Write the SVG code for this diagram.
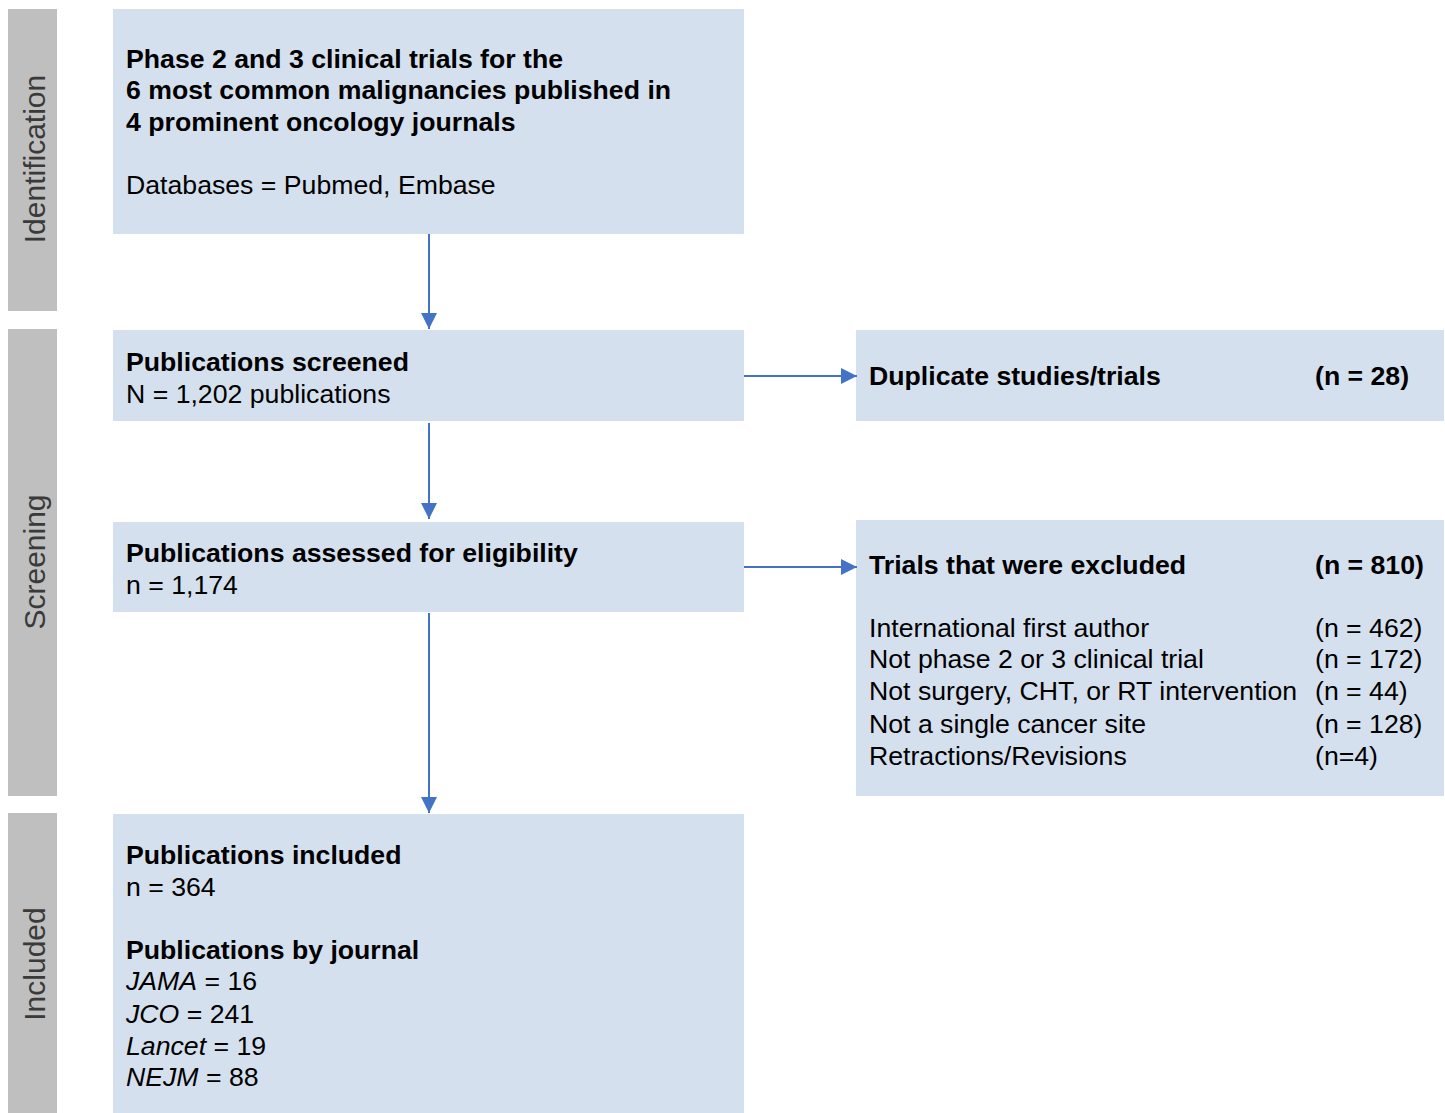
<svg xmlns="http://www.w3.org/2000/svg" width="1445" height="1113" viewBox="0 0 1445 1113">
<defs>
<marker id="ah" viewBox="0 0 10 10" refX="10" refY="5" markerWidth="16" markerHeight="16" markerUnits="userSpaceOnUse" orient="auto"><path d="M0,0 L10,5 L0,10 z" fill="#4472c4"/></marker>
<style>
.bar{fill:#bfbfbf}
.box{fill:#d5e0ee}
.side{font-family:"Liberation Sans",Arial,sans-serif;font-size:30px;fill:#3a3a3a;text-anchor:middle}
.t{font-family:"Liberation Sans",Arial,sans-serif;font-size:26.67px;fill:#000}
.b{font-weight:bold}
.i{font-style:italic}
.con{stroke:#4472c4;stroke-width:2;fill:none;marker-end:url(#ah)}
</style>
</defs>
<rect width="1445" height="1113" fill="#fff"/>
<g id="stages">
<rect class="bar" x="8" y="9" width="49" height="302"/>
<text class="side" transform="translate(45,159) rotate(-90)">Identification</text>
<rect class="bar" x="8" y="329" width="49" height="467"/>
<text class="side" transform="translate(45,562) rotate(-90)">Screening</text>
<rect class="bar" x="8" y="813" width="49" height="300"/>
<text class="side" transform="translate(45,964) rotate(-90)">Included</text>
</g>
<g id="identification">
<rect class="box" x="113" y="9" width="631" height="225"/>
<text class="t b" x="126" y="68">Phase 2 and 3 clinical trials for the</text>
<text class="t b" x="126" y="99">6 most common malignancies published in</text>
<text class="t b" x="126" y="131">4 prominent oncology journals</text>
<text class="t" x="126" y="194">Databases = Pubmed, Embase</text>
</g>
<g id="screened">
<rect class="box" x="113" y="330" width="631" height="91"/>
<text class="t b" x="126" y="371">Publications screened</text>
<text class="t" x="126" y="403">N = 1,202 publications</text>
</g>
<g id="duplicates">
<rect class="box" x="856" y="330" width="588" height="91"/>
<text class="t b" x="869" y="385">Duplicate studies/trials</text>
<text class="t b" x="1315" y="385">(n = 28)</text>
</g>
<g id="eligibility">
<rect class="box" x="113" y="522" width="631" height="90"/>
<text class="t b" x="126" y="562">Publications assessed for eligibility</text>
<text class="t" x="126" y="594">n = 1,174</text>
</g>
<g id="excluded">
<rect class="box" x="856" y="520" width="588" height="276"/>
<text class="t b" x="869" y="574">Trials that were excluded</text>
<text class="t b" x="1315" y="574">(n = 810)</text>
<text class="t" x="869" y="637">International first author</text>
<text class="t" x="1315" y="637">(n = 462)</text>
<text class="t" x="869" y="668">Not phase 2 or 3 clinical trial</text>
<text class="t" x="1315" y="668">(n = 172)</text>
<text class="t" x="869" y="700">Not surgery, CHT, or RT intervention</text>
<text class="t" x="1315" y="700">(n = 44)</text>
<text class="t" x="869" y="733">Not a single cancer site</text>
<text class="t" x="1315" y="733">(n = 128)</text>
<text class="t" x="869" y="765">Retractions/Revisions</text>
<text class="t" x="1315" y="765">(n=4)</text>
</g>
<g id="included">
<rect class="box" x="113" y="814" width="631" height="299"/>
<text class="t b" x="126" y="864">Publications included</text>
<text class="t" x="126" y="896">n = 364</text>
<text class="t b" x="126" y="959">Publications by journal</text>
<text class="t" x="126" y="990"><tspan class="i">JAMA</tspan> = 16</text>
<text class="t" x="126" y="1023"><tspan class="i">JCO</tspan> = 241</text>
<text class="t" x="126" y="1055"><tspan class="i">Lancet</tspan> = 19</text>
<text class="t" x="126" y="1086"><tspan class="i">NEJM</tspan> = 88</text>
</g>
<g id="connectors">
<line class="con" x1="429" y1="234" x2="429" y2="329"/>
<line class="con" x1="429" y1="423" x2="429" y2="519"/>
<line class="con" x1="429" y1="613" x2="429" y2="813"/>
<line class="con" x1="744" y1="376" x2="857" y2="376"/>
<line class="con" x1="744" y1="567" x2="857" y2="567"/>
</g>
</svg>
